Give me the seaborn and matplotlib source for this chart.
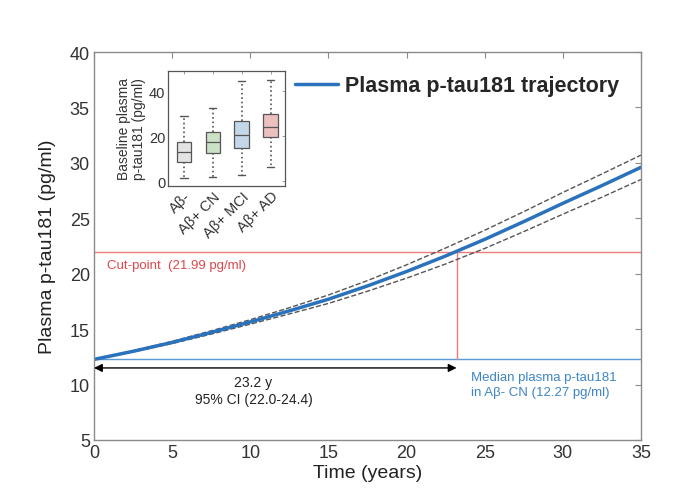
#%% Libraries
import numpy as np
import pandas as pd
import seaborn as sns
from matplotlib import pyplot as plt

#%% Data
years = [0, 2.5, 5, 7.5, 10, 12.5, 15, 17.5, 20, 22.5, 25, 27.5, 30, 32.5, 35]
ptau = [12.27, 13.0, 13.8, 14.7, 15.65, 16.65, 17.7, 18.9, 20.2, 21.6, 23.1, 24.7, 26.35, 27.95, 29.6]
ci_upper = [12.27, 13.05, 13.9, 14.85, 15.85, 16.93, 18.08, 19.38, 20.8, 22.32, 23.92, 25.6, 27.33, 29.0, 30.7]
ci_lower = [12.27, 12.95, 13.7, 14.55, 15.45, 16.37, 17.32, 18.42, 19.6, 20.88, 22.28, 23.8, 25.37, 26.9, 28.5]

cut_point = 21.99
median_neg = 12.27
cross_time = 23.2

# inset boxplots: min, q1, median, q3, max
groups = ['Aβ-', 'Aβ+ CN', 'Aβ+ MCI', 'Aβ+ AD']
box_abneg = [1.5, 8.7, 13.1, 17.3, 29.1]
box_cn = [1.8, 12.7, 17.6, 22.1, 32.8]
box_mci = [2.7, 14.9, 20.6, 26.9, 44.5]
box_ad = [6.4, 19.6, 24.3, 29.9, 44.8]
box_colors = ['#e3e3e3', '#c9e5c1', '#bdd7ee', '#f4b9b9']

#%% Styling
sns.set_theme(style='white')
plt.rcParams['font.family'] = ['Liberation Sans', 'DejaVu Sans']

blue = '#2a72bc'
red = '#ef7b7b'
gray = '#8a8a8a'

fig = plt.figure(figsize=(6.8, 5.02), dpi=100)
ax = fig.add_axes([94 / 680, 1 - 441 / 502, 547 / 680, 388 / 502])

df = pd.DataFrame({'years': years, 'ptau': ptau, 'upper': ci_upper, 'lower': ci_lower})

# reference lines
ax.axhline(cut_point, color=red, lw=1.0)
ax.axhline(median_neg, color='#5b9bd5', lw=1.0)
ax.plot([cross_time, cross_time], [median_neg, cut_point], color=red, lw=1.0)

sns.lineplot(data=df, x='years', y='upper', ax=ax, color='#555555', lw=1.0, linestyle='--')
sns.lineplot(data=df, x='years', y='lower', ax=ax, color='#555555', lw=1.0, linestyle='--')
sns.lineplot(data=df, x='years', y='ptau', ax=ax, color=blue, lw=2.5,
             label='Plasma p-tau181 trajectory')

# double arrow for time to cut-point
ax.annotate('', xy=(0, 11.5), xytext=(cross_time, 11.5),
            arrowprops=dict(arrowstyle='<|-|>', color='black', lw=1.0,
                            shrinkA=0, shrinkB=0, mutation_scale=12))
ax.text(10.2, 9.45, '23.2 y\n95% CI (22.0-24.4)', ha='center', va='center',
        fontsize=10, color='#222222', linespacing=1.3)
ax.text(0.8, 20.8, 'Cut-point  (21.99 pg/ml)', color='#e0474c', fontsize=9.5, va='center')
ax.text(24.1, 10.0, 'Median plasma p-tau181\nin Aβ- CN (12.27 pg/ml)', color='#3d85c6',
        fontsize=9.5, va='center', linespacing=1.3)

ax.set_xlim(0, 35)
ax.set_ylim(5, 40)
ax.set_xticks(range(0, 36, 5))
ax.set_yticks(range(5, 41, 5))
ax.set_xlabel('Time (years)', fontsize=14, color='#222222', labelpad=2)
ax.set_ylabel('Plasma p-tau181 (pg/ml)', fontsize=14, color='#222222', labelpad=10)
ax.tick_params(direction='in', top=True, right=True, length=4, width=0.8,
               color=gray, labelsize=13, labelcolor='#333333', pad=3)
for sp in ax.spines.values():
    sp.set_color(gray)
    sp.set_linewidth(1.0)

leg = ax.legend(loc='upper right', bbox_to_anchor=(0.995, 0.99), frameon=False,
                prop={'weight': 'bold', 'size': 15.5}, handlelength=2.0, handletextpad=0.3)

#%% Inset boxplots
ax_in = fig.add_axes([168 / 680, 1 - 187 / 502, 117 / 680, 115 / 502])
box_df = pd.DataFrame({
    'group': np.repeat(groups, 5),
    'value': box_abneg + box_cn + box_mci + box_ad,
})
sns.boxplot(data=box_df, x='group', y='value', hue='group', palette=box_colors,
            legend=False, ax=ax_in, width=0.5, whis=(0, 100), linecolor='#555555',
            linewidth=0.9, whiskerprops=dict(linestyle=':', linewidth=1.2),
            capprops=dict(linewidth=1.0))
ax_in.set_ylim(-2, 49)
ax_in.set_xlim(-0.55, 3.5)
ax_in.set_yticks([0, 20, 40])
ax_in.set_xlabel('')
ax_in.set_ylabel('Baseline plasma\np-tau181 (pg/ml)', fontsize=10, color='#333333',
                 labelpad=2, linespacing=1.1)
ax_in.tick_params(direction='in', top=True, right=True, length=2.5, width=0.6,
                  color=gray, labelsize=10.5, labelcolor='#333333', pad=2)
ax_in.set_xticks(range(4))
ax_in.set_xticklabels(groups, rotation=45, ha='right', rotation_mode='anchor')
for sp in ax_in.spines.values():
    sp.set_color('#555555')
    sp.set_linewidth(0.9)

fig.savefig('out.png', dpi=100)
